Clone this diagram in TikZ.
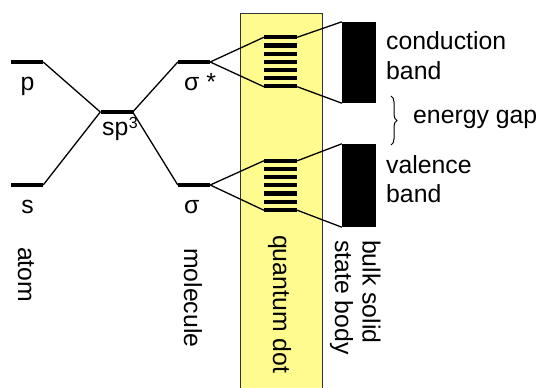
\documentclass[tikz,border=0pt]{standalone}
\usepackage{fontspec}
\setmainfont{Liberation Sans}
\usetikzlibrary{positioning,calc,decorations.pathreplacing}
\definecolor{dotfill}{HTML}{FFFB8F}
\definecolor{dotedge}{HTML}{333333}
\tikzset{
  level/.style={fill=black, inner sep=0pt, minimum width=32, minimum height=4.5},
  stack/.style={inner sep=0pt, minimum width=33, minimum height=49},
  bandbox/.style={fill=black, inner sep=0pt, minimum width=34},
  bar/.style={line width=4.2pt},
  link/.style={line width=1.3pt},
  txt/.style={inner sep=0pt, font=\fontsize{24.8}{29}\selectfont},
  vtxt/.style={txt, rotate=-90, anchor=base west}
}
\newcommand{\supnum}[1]{\raisebox{7pt}{\fontsize{16}{17}\selectfont\kern0.5pt#1}}
\begin{document}
\begin{tikzpicture}[x=1pt,y=-1pt]
  \useasboundingbox (0,0) rectangle (542,388);
  % quantum dot strip
  \fill[dotfill] (240,13) rectangle (322,392);
  \draw[dotedge, line width=1pt] (240,392) -- (240,13) -- (322,13) -- (322,392);

  % levels
  \node[level] (p)  at (27,62) {};
  \node[level] (s)  at (27,185) {};
  \node[level] (sp3) at (116.5,112) {};
  \node[level] (sstar) at (194,62) {};
  \node[level] (sig) at (194,185) {};
  \draw[link] (p.east) -- (sp3.west);
  \draw[link] (s.east) -- (sp3.west);
  \draw[link] (sp3.east) -- (sstar.west);
  \draw[link] (sp3.east) -- (sig.west);

  % quantum dot levels
  \node[stack] (cbdot) at (280.5,62) {};
  \node[stack] (vbdot) at (280.5,185.5) {};
  \foreach \d in {cbdot,vbdot}
    \foreach \i in {0,...,6}
      \draw[bar] ($(\d.north west)+(0,\i*8.17)$) -- ($(\d.north east)+(0,\i*8.17)$);

  % bulk bands
  \node[bandbox, minimum height=81] (cb) at (359,62.5) {};
  \node[bandbox, minimum height=83] (vb) at (359,185.5) {};

  \draw[link] (sstar.east) -- (cbdot.north west);
  \draw[link] (sstar.east) -- (cbdot.south west);
  \draw[link] (sig.east) -- (vbdot.north west);
  \draw[link] (sig.east) -- (vbdot.south west);
  \draw[link] (cbdot.north east) -- (cb.north west);
  \draw[link] (cbdot.south east) -- (cb.south west);
  \draw[link] (vbdot.north east) -- (vb.north west);
  \draw[link] (vbdot.south east) -- (vb.south west);

  % energy gap
  \coordinate (gaptop) at (391,96);
  \coordinate (gapbot) at (391,145);
  \draw[line width=1pt, decorate, decoration={brace, amplitude=6pt}] (gaptop) -- (gapbot);

  % labels
  \node[txt, anchor=base] (plbl) at (27.5,90) {p};
  \node[txt, anchor=base] (slbl) at (27.5,213) {s};
  \node[txt, anchor=base west] (sp3lbl) at (102,135) {sp\supnum{3}};
  \node[txt, anchor=base west] (sstarlbl) at (184,90) {σ *};
  \node[txt, anchor=base west] (siglbl) at (184,213) {σ};
  \node[txt, anchor=base west] (cblbl) at (386,49) {conduction};
  \node[txt, anchor=base west] (cblbl2) at (386,79.5) {band};
  \node[txt, anchor=base west] (gaplbl) at (413,123) {energy gap};
  \node[txt, anchor=base west] (vblbl) at (386,173) {valence};
  \node[txt, anchor=base west] (vblbl2) at (386,202) {band};

  \node[vtxt] (atomlbl) at (18,247) {atom};
  \node[vtxt] (mollbl) at (184,248) {molecule};
  \node[vtxt] (qdlbl) at (273,235) {quantum dot};
  \node[vtxt] (bulklbl) at (362.5,240) {bulk solid};
  \node[vtxt] (bulklbl2) at (335,240) {state body};
\end{tikzpicture}
\end{document}
